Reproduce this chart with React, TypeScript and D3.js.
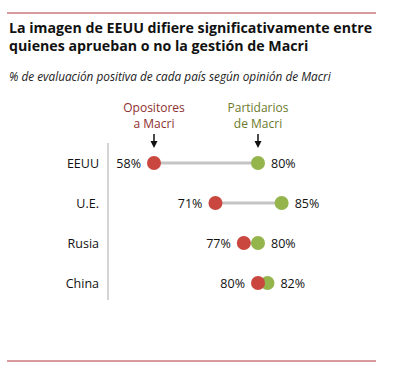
import React from "react";
import * as d3 from "d3";

const categories = ["EEUU", "U.E.", "Rusia", "China"];
const opositores = [58, 71, 77, 80];
const partidarios = [80, 85, 80, 82];

const W = 393, H = 380;
const RED = "#c9473f";
const GREEN = "#93b54b";

export default function App() {
  const x = d3.scaleLinear().domain([58, 80]).range([154, 258]);
  const y = d3.scalePoint<string>().domain(categories).range([163, 283]);
  const font = "'Open Sans', 'Noto Sans', sans-serif";
  const r = 7;
  return (
    <svg width={W} height={H} style={{ position: "absolute", left: 0, top: 0, fontFamily: font }}>
      <line x1={7} x2={376} y1={13} y2={13} stroke="#b0383c" strokeWidth={1} />
      <text x={9} y={33} fontSize={14.2} fontWeight="bold" fill="#111">La imagen de EEUU difiere significativamente entre</text>
      <text x={9} y={51} fontSize={14.2} fontWeight="bold" fill="#111">quienes aprueban o no la gestión de Macri</text>
      <text x={9} y={81} fontSize={11.8} fontStyle="italic" fill="#222">% de evaluación positiva de cada país según opinión de Macri</text>

      <text x={x(58)} y={112} fontSize={12} textAnchor="middle" fill="#8e2f2f">Opositores</text>
      <text x={x(58)} y={127.5} fontSize={12} textAnchor="middle" fill="#8e2f2f">a Macri</text>
      <text x={x(80)} y={112} fontSize={12} textAnchor="middle" fill="#6b7a2c">Partidarios</text>
      <text x={x(80)} y={127.5} fontSize={12} textAnchor="middle" fill="#6b7a2c">de Macri</text>
      {[x(58), x(80)].map((ax, i) => (
        <g key={i}>
          <line x1={ax} x2={ax} y1={134} y2={142} stroke="#111" strokeWidth={1.5} />
          <path d={`M${ax - 3.5},${141} L${ax + 3.5},${141} L${ax},${148} Z`} fill="#111" />
        </g>
      ))}

      <line x1={108} x2={108} y1={143} y2={300} stroke="#aaa" strokeWidth={1} />

      {categories.map((c, i) => {
        const cy = y(c)!;
        const xo = x(opositores[i]);
        const xp = x(partidarios[i]);
        return (
          <g key={c}>
            <text x={99} y={cy + 4.5} fontSize={12.5} textAnchor="end" fill="#111">{c}</text>
            <line x1={xo} x2={xp} y1={cy} y2={cy} stroke="#c4c4c4" strokeWidth={3} />
            <circle cx={xp} cy={cy} r={r} fill={GREEN} />
            <circle cx={xo} cy={cy} r={r} fill={RED} />
            <text x={xo - r - 6} y={cy + 4.5} fontSize={12.5} textAnchor="end" fill="#111">{opositores[i]}%</text>
            <text x={xp + r + 6} y={cy + 4.5} fontSize={12.5} textAnchor="start" fill="#111">{partidarios[i]}%</text>
          </g>
        );
      })}

      <line x1={7} x2={376} y1={361} y2={361} stroke="#b0383c" strokeWidth={1} />
    </svg>
  );
}
